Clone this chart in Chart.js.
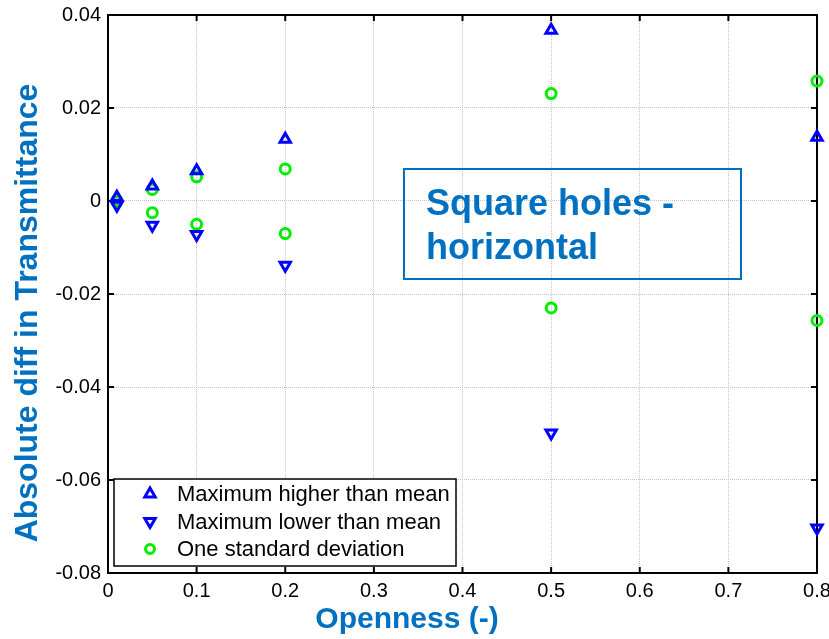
<!DOCTYPE html>
<html>
<head>
<meta charset="utf-8">
<script src="https://cdn.jsdelivr.net/npm/chart.js@4"></script>
<style>
  html, body { margin: 0; padding: 0; background: #fff; }
  #wrap { width: 829px; height: 639px; }
</style>
</head>
<body>
<div id="wrap"><canvas id="chart" width="829" height="639"></canvas></div>
<script>
// Openness values and measured differences
var openness = [0.01, 0.05, 0.1, 0.2, 0.5, 0.8];
var maxHigher = [0.0008, 0.0032, 0.0065, 0.0133, 0.0367, 0.0137];
var maxLower = [-0.0009, -0.0052, -0.0072, -0.0138, -0.0499, -0.0703];
var stdPlus = [0.0001, 0.0025, 0.0052, 0.0069, 0.0231, 0.0258];
var stdMinus = [-0.0001, -0.0025, -0.0050, -0.0070, -0.0230, -0.0257];

var xTicks = [0, 0.1, 0.2, 0.3, 0.4, 0.5, 0.6, 0.7, 0.8];
var yTicks = [-0.08, -0.06, -0.04, -0.02, 0, 0.02, 0.04];

var legendLabels = ['Maximum higher than mean', 'Maximum lower than mean', 'One standard deviation'];
var boxText = ['Square holes -', 'horizontal'];
var xTitle = 'Openness (-)';
var yTitle = 'Absolute diff in Transmittance';

var BLUE = '#0000ff', GREEN = '#00ee00', TITLE = '#0070c0';
var FONT = '"Liberation Sans", Arial, sans-serif';

function pts(xs, ys) {
    return xs.map(function (x, i) { return { x: x, y: ys[i] }; });
}

// axis frame with inward ticks, legend, text box and axis titles
var framePlugin = {
    id: 'frame',
    beforeDatasetsDraw: function (chart) {
        var ctx = chart.ctx, a = chart.chartArea;
        var xs = chart.scales.x, ys = chart.scales.y;
        ctx.save();
        ctx.strokeStyle = '#000';
        ctx.lineWidth = 2;
        ctx.strokeRect(a.left, a.top, a.right - a.left, a.bottom - a.top);
        ctx.beginPath();
        xTicks.forEach(function (t) {
            var px = xs.getPixelForValue(t);
            ctx.moveTo(px, a.top); ctx.lineTo(px, a.top + 6);
            ctx.moveTo(px, a.bottom); ctx.lineTo(px, a.bottom - 6);
        });
        yTicks.forEach(function (t) {
            var py = ys.getPixelForValue(t);
            ctx.moveTo(a.left, py); ctx.lineTo(a.left + 6, py);
            ctx.moveTo(a.right, py); ctx.lineTo(a.right - 6, py);
        });
        ctx.stroke();
        ctx.restore();
    },
    afterDraw: function (chart) {
        var ctx = chart.ctx, a = chart.chartArea;
        ctx.save();
        // legend box
        var lx = a.left + 6, ly = a.bottom - 94, lw = 342, lh = 87;
        ctx.fillStyle = '#fff';
        ctx.fillRect(lx, ly, lw, lh);
        ctx.strokeStyle = '#000';
        ctx.lineWidth = 1.5;
        ctx.strokeRect(lx, ly, lw, lh);
        var styles = [
            { s: 'triangle', r: 0, c: BLUE },
            { s: 'triangle', r: 180, c: BLUE },
            { s: 'circle', r: 0, c: GREEN }
        ];
        ctx.font = '22px ' + FONT;
        ctx.textBaseline = 'middle';
        legendLabels.forEach(function (lab, i) {
            var cy = ly + 15 + i * 27.5;
            ctx.strokeStyle = styles[i].c;
            ctx.fillStyle = 'rgba(0,0,0,0)';
            ctx.lineWidth = 3;
            Chart.helpers.drawPoint(ctx, {
                pointStyle: styles[i].s, rotation: styles[i].r,
                radius: styles[i].s === 'circle' ? 4.5 : 6, borderWidth: 3
            }, lx + 36, cy);
            ctx.fillStyle = '#000';
            ctx.fillText(lab, lx + 63, cy + 1);
        });
        // text box
        ctx.strokeStyle = TITLE;
        ctx.lineWidth = 2;
        ctx.strokeRect(404, 169, 337, 110);
        ctx.fillStyle = TITLE;
        ctx.font = 'bold 36px ' + FONT;
        ctx.textBaseline = 'alphabetic';
        ctx.fillText(boxText[0], 426, 215);
        ctx.fillText(boxText[1], 426, 259);
        // axis titles
        ctx.textAlign = 'center';
        ctx.font = 'bold 30px ' + FONT;
        ctx.fillText(xTitle, 407, 628);
        ctx.translate(37, 313);
        ctx.rotate(-Math.PI / 2);
        ctx.font = 'bold 32px ' + FONT;
        ctx.fillText(yTitle, 0, 0);
        ctx.restore();
    }
};

var ctx = document.getElementById('chart').getContext('2d');
var chart = new Chart(ctx, {
    type: 'scatter',
    data: {
        datasets: [
            {
                label: legendLabels[0],
                data: pts(openness, maxHigher),
                pointStyle: 'triangle', pointRadius: 6, pointBorderWidth: 3,
                borderColor: BLUE, backgroundColor: 'rgba(0,0,0,0)', clip: false
            },
            {
                label: legendLabels[1],
                data: pts(openness, maxLower),
                pointStyle: 'triangle', rotation: 180, pointRadius: 6, pointBorderWidth: 3,
                borderColor: BLUE, backgroundColor: 'rgba(0,0,0,0)', clip: false
            },
            {
                label: legendLabels[2],
                data: pts(openness, stdPlus).concat(pts(openness, stdMinus)),
                pointStyle: 'circle', pointRadius: 5, pointBorderWidth: 3,
                borderColor: GREEN, backgroundColor: 'rgba(0,0,0,0)', clip: false
            }
        ]
    },
    options: {
        responsive: false,
        animation: false,
        layout: { padding: { top: 15, right: 12, left: 0, bottom: 0 } },
        plugins: { legend: { display: false }, tooltip: { enabled: false } },
        scales: {
            x: {
                type: 'linear', min: 0, max: 0.8,
                afterBuildTicks: function (s) { s.ticks = xTicks.map(function (v) { return { value: v }; }); },
                afterFit: function (s) { s.height = 66; s.paddingLeft = 0; s.paddingRight = 0; },
                grid: { color: '#c4c4c4', lineWidth: 1, drawTicks: false },
                border: { display: false, dash: [1, 1] },
                ticks: {
                    padding: 6, color: '#000', maxRotation: 0,
                    font: { family: FONT, size: 20 },
                    callback: function (v) { return String(Number(v.toFixed(2))); }
                }
            },
            y: {
                type: 'linear', min: -0.08, max: 0.04,
                afterBuildTicks: function (s) { s.ticks = yTicks.map(function (v) { return { value: v }; }); },
                afterFit: function (s) { s.width = 108; s.paddingTop = 0; s.paddingBottom = 0; },
                grid: { color: '#c4c4c4', lineWidth: 1, drawTicks: false },
                border: { display: false, dash: [1, 1] },
                ticks: {
                    padding: 7, color: '#000',
                    font: { family: FONT, size: 20 },
                    callback: function (v) { return String(Number(v.toFixed(2))); }
                }
            }
        }
    },
    plugins: [framePlugin]
});
</script>
</body>
</html>
